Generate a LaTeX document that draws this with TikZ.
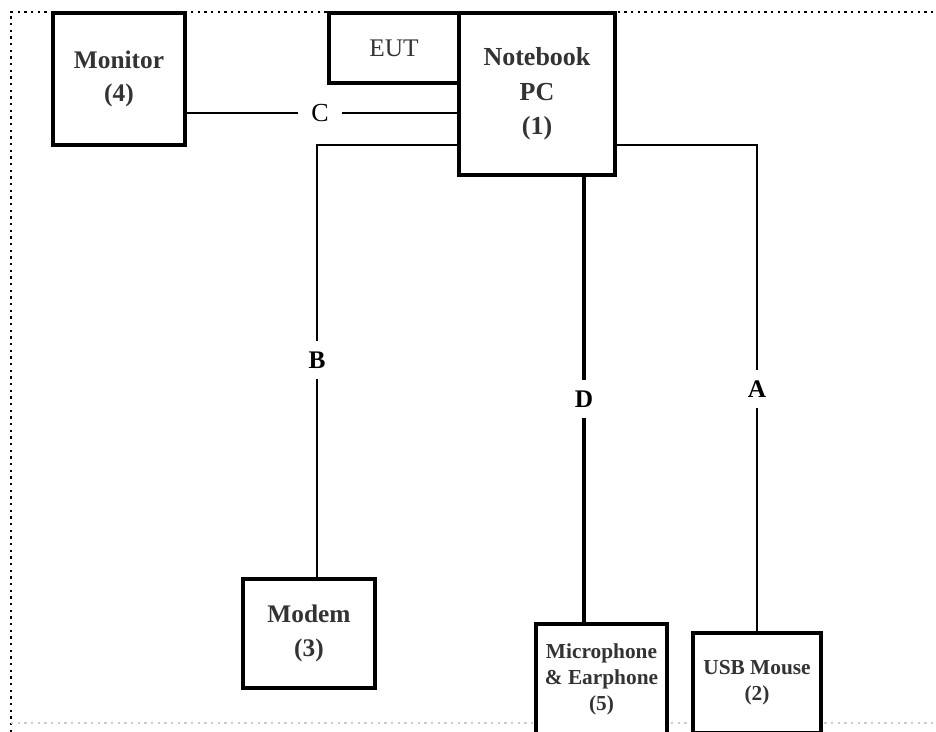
\documentclass[tikz,border=0pt]{standalone}
\usepackage{fontspec}
\setmainfont{Liberation Serif}
\usetikzlibrary{calc}
\definecolor{txt}{HTML}{333333}
\tikzset{
  box/.style={draw=black, line width=2.3pt, fill=white, outer sep=0pt, inner sep=0pt,
    anchor=north west, align=center, text=txt,
    font=\bfseries\fontsize{19}{25}\selectfont},
  smallbox/.style={box, font=\bfseries\fontsize{16}{19.5}\selectfont},
  wire/.style={draw=black, line width=2pt},
  thickwire/.style={draw=black, line width=2.8pt},
  lbl/.style={fill=white, text=black, inner xsep=6pt, inner ysep=8pt,
    font=\bfseries\fontsize{19}{22}\selectfont},
  border/.style={draw=black, line width=2pt, dash pattern=on 1.8pt off 3.2pt},
}
\begin{document}
\begin{tikzpicture}[x=0.75pt,y=-0.75pt]
\useasboundingbox (0,0) rectangle (936,732);
\clip (0,0) rectangle (936,732);
\fill[white] (0,0) rectangle (936,732);
% dotted frame
\draw[border] (940,12) -- (11,12) -- (11,740);
\draw[border, draw=black!20] (11,723) -- (940,723);
% boxes
\node[box, minimum width=99pt, minimum height=99pt] (mon) at (53,13) {Monitor\\(4)};
\node[box, font=\fontsize{19}{25}\selectfont, minimum width=97.5pt, minimum height=52.5pt] (eut) at (329,13) {EUT};
\node[box, font=\bfseries\fontsize{19.5}{26}\selectfont, minimum width=117pt, minimum height=121.5pt] (nb) at (459,13) {Notebook\\PC\\(1)};
\node[box, minimum width=99pt, minimum height=81.75pt] (mod) at (243,579) {Modem\\(3)};
\node[smallbox, line width=2.7pt, minimum width=98.25pt, minimum height=82.5pt] (mic) at (536,624) {Microphone\\\& Earphone\\(5)};
\node[smallbox, minimum width=96pt, minimum height=75pt] (usb) at (693,633) {USB Mouse\\(2)};
% helper coordinates
\coordinate (cy) at (0,113);
\coordinate (by) at (0,145);
\coordinate (bx) at (317,0);
\coordinate (ay) at (0,145);
\coordinate (dx) at (584,0);
% connectors
\draw[wire] (mon.east |- cy) -- (nb.west |- cy);
\draw[wire] (nb.west |- by) -| (bx |- mod.north);
\draw[wire] (nb.east |- ay) -| (usb.north);
\draw[thickwire] (nb.south -| dx) -- (mic.north -| dx);
% labels
\node[lbl, font=\fontsize{19.5}{22}\selectfont, inner xsep=10pt] (lc) at (320,113) {C};
\node[lbl] (lb) at (317,360) {B};
\node[lbl] (ld) at (584,399) {D};
\node[lbl] (la) at (usb.north |- 0,389) {A};
\end{tikzpicture}
\end{document}
